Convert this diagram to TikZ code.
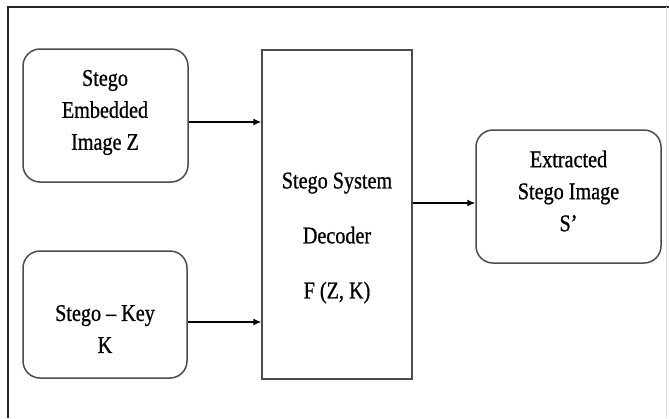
\documentclass[tikz,border=0pt]{standalone}
\usepackage{fontspec}
\setmainfont{Liberation Serif}
\newfontfamily\heavyserif[FakeBold=0.9]{Liberation Serif}
\usetikzlibrary{arrows.meta}
\begin{document}
\begin{tikzpicture}[x=1pt,y=-1pt,
  frameline/.style={draw=black!85,line width=1.5pt},
  roundbox/.style={draw=black!70,line width=1.5pt,rounded corners=17pt,inner sep=0pt},
  plainbox/.style={draw=black!70,line width=1.5pt,inner sep=0pt},
  label/.style={align=center,text=black,inner sep=0pt,
    font=\heavyserif\fontsize{24}{32}\selectfont},
  flow/.style={draw=black,line width=1.2pt,-{Latex[length=8pt,width=7pt]}}]
\useasboundingbox (0,0) rectangle (669,418);
% outer frame: top and left edges, faint right edge
\coordinate (ftl) at (8,7);
\coordinate (ftr) at (669,7);
\coordinate (fbl) at (8,418);
\coordinate (frt) at (666,7);
\coordinate (frb) at (666,418);
\draw[frameline] (ftr) -- (ftl) -- (fbl);
\draw[draw=black!12,line width=1pt] (frt) -- (frb);
% blocks
\node[roundbox,minimum width=165pt,minimum height=133pt] (emb) at (105.5,115.5) {};
\node[roundbox,minimum width=164pt,minimum height=127pt] (key) at (105,314.5) {};
\node[plainbox,minimum width=150pt,minimum height=329pt] (dec) at (337,214.5) {};
\node[roundbox,minimum width=185pt,minimum height=133pt] (ext) at (568.5,196.5) {};
% texts
\node[label] (embt) at (105,112.5) {\scalebox{0.84}[1]{Stego}\\\scalebox{0.84}[1]{Embedded}\\\scalebox{0.84}[1]{Image Z}};
\node[label] (keyt) at (105,329) {\scalebox{0.84}[1]{Stego – Key}\\\scalebox{0.84}[1]{K}};
\node[label,font=\heavyserif\fontsize{24}{55}\selectfont] (dect) at (337,238) {\scalebox{0.84}[1]{Stego System}\\\scalebox{0.84}[1]{Decoder}\\\scalebox{0.84}[1]{F (Z, K)}};
\node[label] (extt) at (568.5,191) {\scalebox{0.84}[1]{Extracted}\\\scalebox{0.84}[1]{Stego Image}\\\scalebox{0.84}[1]{S’}};
% connectors
\draw[flow] ([yshift=-6.5pt]emb.east) -- ([yshift=-6.5pt]emb.east -| dec.west);
\draw[flow] ([yshift=-7.5pt]key.east) -- ([yshift=-7.5pt]key.east -| dec.west);
\draw[flow] ([yshift=11.5pt]dec.east) -- ([yshift=11.5pt]dec.east -| ext.west);
\end{tikzpicture}
\end{document}
